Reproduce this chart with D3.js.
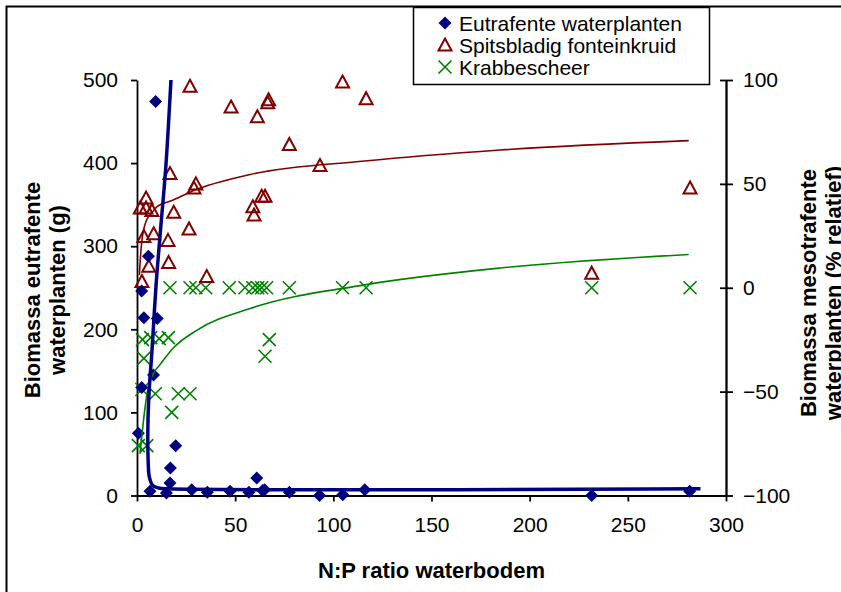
<!DOCTYPE html>
<html>
<head>
<meta charset="utf-8">
<script src="https://cdn.jsdelivr.net/npm/d3@7"></script>
<style>
    html, body { margin: 0; padding: 0; background: #fff; }
    svg { display: block; font-family: "Liberation Sans", Arial, sans-serif; }
</style>
</head>
<body>
<div class="np-chart"></div>
<script>
// Eutrafente waterplanten (g) - linker as
const eutX = [0.7, 2.4, 2.4, 3.5, 5.8, 6.6, 8.4, 9.5, 10.3, 15, 16.8, 17, 19.7, 27.9, 35.8, 47.4, 57, 61, 64, 65, 77.6, 93, 104.8, 116, 231.6, 281.5]
const eutY = [75, 130, 246, 214, 288, 5, 145, 474, 213, 3, 15, 33, 60, 7, 4, 5, 4, 21, 6, 7, 4, 0, 1, 7, 0, 5]
// Spitsbladig fonteinkruid (% relatief) - rechter as
const spitsX = [1.7, 4.6, 4.6, 7.6, 18.7, 3.5, 8.5, 15.8, 6, 16.1, 2.5, 16.8, 27, 29, 30, 26.5, 35.5, 47.9, 61.3, 66.6, 67, 104.7, 116.7, 77.6, 93.2, 59, 59.6, 63.5, 65.2, 231.6, 281.7]
const spitsY = [38.4, 43.2, 38.4, 37.2, 36.3, 24.7, 26, 22.8, 10.3, 12.2, 3, 55, 97, 48, 50, 28.3, 5.4, 87, 82.3, 89, 90.5, 99, 91, 69, 58.8, 39, 35, 44, 44, 7, 48]
// Krabbescheer (% relatief) - rechter as
const krabX = [16.8, 27, 30, 35, 47, 55, 59, 61.5, 63.5, 66, 77.6, 104.7, 116.7, 231.6, 281.7, 2.8, 7, 11.3, 16, 3.5, 2.5, 9.3, 21, 27, 17.7, 0.7, 5, 65.2, 67.4]
const krabY = [0, 0, 0, 0, 0, 0, 0, 0, 0, 0, 0, 0, 0, 0, 0, -25, -24, -24.5, -24, -34, -49, -51, -51, -51, -60, -76, -76, -33, -25]

// trendlijnen
const trendEutX = [17.3, 14.6, 12, 9.7, 7.6, 6.3, 5.6, 5.7, 6.3, 8, 11, 16, 287]
const trendEutY = [500, 393, 320, 253, 173, 130, 90, 40, 22, 12, 9, 8, 8]
const trendSpitsX = [1.2, 1.7, 2.4, 3.4, 5.1, 7.5, 10.2, 17.8, 28, 57.6, 116, 185, 281]
const trendSpitsY = [6, 14, 22, 28, 33, 36, 39, 42, 46.5, 54.5, 61, 66.3, 70.8]
const trendKrabX = [1.5, 2.4, 3.3, 4.2, 5.3, 6.6, 8.5, 11.7, 18.5, 30.4, 57.6, 116, 185, 281]
const trendKrabY = [-80, -72, -64, -57, -50, -45, -41, -37, -29, -20.5, -10, 1.4, 9.5, 16]

const xTicks = [0, 50, 100, 150, 200, 250, 300]
const leftTicks = [0, 100, 200, 300, 400, 500]
const rightTicks = [-100, -50, 0, 50, 100]
const seriesNames = ["Eutrafente waterplanten", "Spitsbladig fonteinkruid", "Krabbescheer"]

let width = 841,
    height = 592,
    plotLeft = 137,
    plotRight = 726,
    plotTop = 80,
    plotBottom = 495.5
let navy = "#000080", darkRed = "#800000", green = "#008000"

let svg = d3.select(".np-chart")
    .append("svg")
    .attr("width", width)
    .attr("height", height)

// kader van het diagramgebied (rechts en onder buiten beeld)
svg.append("rect")
    .attr("x", 6.5)
    .attr("y", 6.5)
    .attr("width", 1000)
    .attr("height", 1000)
    .attr("fill", "#fff")
    .attr("stroke", "#000")
    .attr("stroke-width", 2)

let xScale = d3.scaleLinear().domain([0, 300]).range([plotLeft, plotRight])
let yLeft = d3.scaleLinear().domain([0, 500]).range([plotBottom, plotTop])
let yRight = d3.scaleLinear().domain([-100, 100]).range([plotBottom, plotTop])

function styleAxis(g) {
    g.selectAll("path, line").attr("stroke", "#000").attr("stroke-width", 1.8)
    g.selectAll("text").attr("font-size", 21).attr("fill", "#000").attr("font-family", "Liberation Sans, Arial, sans-serif")
}

svg.append("g")
    .attr("transform", `translate(0,${plotBottom})`)
    .call(d3.axisBottom(xScale).tickValues(xTicks).tickSize(6).tickSizeOuter(0).tickPadding(16))
    .call(styleAxis)

svg.append("g")
    .attr("transform", `translate(${plotLeft},0)`)
    .call(d3.axisLeft(yLeft).tickValues(leftTicks).tickSize(6).tickSizeOuter(0).tickPadding(13))
    .call(styleAxis)

svg.append("g")
    .attr("transform", `translate(${plotRight},0)`)
    .call(d3.axisRight(yRight).tickValues(rightTicks).tickSize(7).tickSizeOuter(0).tickPadding(10).tickFormat(d3.format("d")))
    .call(styleAxis)
// kruisende streepjes aan de rechter as
svg.append("g")
    .attr("transform", `translate(${plotRight},0)`)
    .call(d3.axisLeft(yRight).tickValues(rightTicks).tickSize(6).tickSizeOuter(0).tickFormat(""))
    .call(styleAxis)

// markers
let diamond = "M0,-6.5L6.5,0L0,6.5L-6.5,0Z"
let triangle = "M0,-6.5L6.5,5.5L-6.5,5.5Z"
let cross = "M-6.5,-6.5L6.5,6.5M-6.5,6.5L6.5,-6.5"

svg.append("g")
    .selectAll("path")
    .data(krabX.map((d, i) => [d, krabY[i]]))
    .enter()
    .append("path")
    .attr("d", cross)
    .attr("transform", (d) => `translate(${xScale(d[0])},${yRight(d[1])})`)
    .attr("fill", "none")
    .attr("stroke", green)
    .attr("stroke-width", 1.6)

svg.append("g")
    .selectAll("path")
    .data(spitsX.map((d, i) => [d, spitsY[i]]))
    .enter()
    .append("path")
    .attr("d", triangle)
    .attr("transform", (d) => `translate(${xScale(d[0])},${yRight(d[1])})`)
    .attr("fill", "none")
    .attr("stroke", darkRed)
    .attr("stroke-width", 2)

svg.append("g")
    .selectAll("path")
    .data(eutX.map((d, i) => [d, eutY[i]]))
    .enter()
    .append("path")
    .attr("d", diamond)
    .attr("transform", (d) => `translate(${xScale(d[0])},${yLeft(d[1])})`)
    .attr("fill", navy)

// trendlijnen
let lineRight = d3.line()
    .x((d) => xScale(d[0]))
    .y((d) => yRight(d[1]))
    .curve(d3.curveMonotoneX)
svg.append("path")
    .attr("d", lineRight(trendSpitsX.map((d, i) => [d, trendSpitsY[i]])))
    .attr("fill", "none")
    .attr("stroke", darkRed)
    .attr("stroke-width", 1.6)
svg.append("path")
    .attr("d", lineRight(trendKrabX.map((d, i) => [d, trendKrabY[i]])))
    .attr("fill", "none")
    .attr("stroke", green)
    .attr("stroke-width", 1.6)

let lineLeft = d3.line()
    .x((d) => xScale(d[0]))
    .y((d) => yLeft(d[1]))
    .curve(d3.curveCatmullRom.alpha(0.5))
svg.append("path")
    .attr("d", lineLeft(trendEutX.map((d, i) => [d, trendEutY[i]])))
    .attr("fill", "none")
    .attr("stroke", navy)
    .attr("stroke-width", 3.5)

// astitels
svg.append("text")
    .attr("x", (plotLeft + plotRight) / 2)
    .attr("y", 578)
    .attr("text-anchor", "middle")
    .attr("font-size", 22)
    .attr("font-weight", "bold")
    .text("N:P ratio waterbodem")

let leftTitle = svg.append("text")
    .attr("transform", "translate(32,290) rotate(-90)")
    .attr("text-anchor", "middle")
    .attr("font-size", 22)
    .attr("font-weight", "bold")
leftTitle.append("tspan").attr("x", 0).attr("y", 8).text("Biomassa eutrafente")
leftTitle.append("tspan").attr("x", 0).attr("y", 33).text("waterplanten (g)")

let rightTitle = svg.append("text")
    .attr("transform", "translate(808,293) rotate(-90)")
    .attr("text-anchor", "middle")
    .attr("font-size", 22)
    .attr("font-weight", "bold")
rightTitle.append("tspan").attr("x", 0).attr("y", 8).text("Biomassa mesotrafente")
rightTitle.append("tspan").attr("x", 0).attr("y", 33).text("waterplanten (% relatief)")

// legenda
let legend = svg.append("g")
legend.append("rect")
    .attr("x", 413.5)
    .attr("y", 7.5)
    .attr("width", 296)
    .attr("height", 77)
    .attr("fill", "#fff")
    .attr("stroke", "#000")
    .attr("stroke-width", 1.5)
let legendMarks = [
    { d: diamond, fill: navy, stroke: "none", sw: 0 },
    { d: triangle, fill: "none", stroke: darkRed, sw: 2 },
    { d: cross, fill: "none", stroke: green, sw: 1.6 }
]
seriesNames.forEach((name, i) => {
    let cy = 23 + i * 22
    legend.append("path")
        .attr("d", legendMarks[i].d)
        .attr("transform", `translate(445,${cy})`)
        .attr("fill", legendMarks[i].fill)
        .attr("stroke", legendMarks[i].stroke)
        .attr("stroke-width", legendMarks[i].sw)
    legend.append("text")
        .attr("x", 459)
        .attr("y", cy + 8)
        .attr("font-size", 21)
        .text(name)
})
</script>
</body>
</html>
